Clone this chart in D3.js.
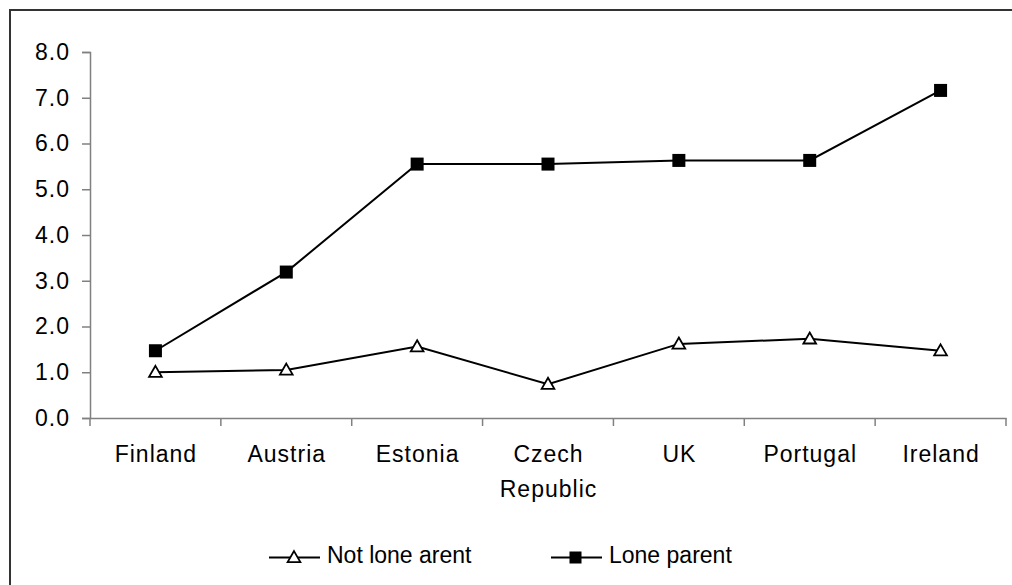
<!DOCTYPE html>
<html>
<head>
<meta charset="utf-8">
<script src="https://cdn.jsdelivr.net/npm/d3@7"></script>
<style>
html,body{margin:0;padding:0;background:#fff;overflow:hidden;}
svg{display:block;font-family:"Liberation Sans",Arial,sans-serif;}
</style>
</head>
<body>
<svg id="chart" width="1012" height="585"></svg>
<script>
const categories = ["Finland", "Austria", "Estonia", "Czech\nRepublic", "UK", "Portugal", "Ireland"];
const notLoneParent = [1.0, 1.05, 1.56, 0.74, 1.62, 1.73, 1.47];
const loneParent = [1.47, 3.19, 5.55, 5.55, 5.63, 5.63, 7.16];
const yTicks = [0, 1, 2, 3, 4, 5, 6, 7, 8];
const seriesNames = ["Not lone arent", "Lone parent"];

const svg = d3.select("#chart");
const FONT = "Liberation Sans, Arial, sans-serif";

// outer frame (right/bottom edges off-canvas)
svg.append("rect").attr("x", 10).attr("y", 10).attr("width", 1020).attr("height", 600)
  .attr("fill", "none").attr("stroke", "#333").attr("stroke-width", 2);

const x = d3.scaleBand().domain(d3.range(categories.length)).range([90, 1006]);
const y = d3.scaleLinear().domain([0, 8]).range([418, 52]);

const axisColor = "#808080";
// y axis
const yAxis = svg.append("g").attr("transform", "translate(90,0)")
  .call(d3.axisLeft(y).tickValues(yTicks).tickFormat(d3.format(".1f")).tickSizeOuter(0).tickSize(8).tickPadding(12));
yAxis.select(".domain").attr("stroke", axisColor).attr("stroke-width", 1.5);
yAxis.selectAll(".tick line").attr("stroke", axisColor).attr("stroke-width", 1.5);
yAxis.selectAll(".tick text").attr("fill", "#000").attr("font-size", 23)
  .attr("letter-spacing", 1).attr("font-family", FONT);

// x axis
const xAxis = svg.append("g").attr("transform", "translate(0,418)")
  .call(d3.axisBottom(x).tickSize(0).tickFormat(""));
xAxis.select(".domain").attr("stroke", axisColor).attr("stroke-width", 1.5);
xAxis.selectAll(".tick").remove();
const tickPos = d3.range(categories.length + 1).map(i => i < categories.length ? x(i) : x(categories.length - 1) + x.bandwidth());
xAxis.selectAll("line.xt").data(tickPos).enter().append("line")
  .attr("x1", d => d).attr("x2", d => d).attr("y1", 0).attr("y2", 8)
  .attr("stroke", axisColor).attr("stroke-width", 1.5);

const labels = svg.append("g");
categories.forEach((c, i) => {
  const t = labels.append("text").attr("text-anchor", "middle")
    .attr("font-size", 23).attr("letter-spacing", 1).attr("fill", "#000");
  c.split("\n").forEach((line, j) => {
    t.append("tspan").attr("x", x(i) + x.bandwidth() / 2 + 0.5).attr("y", 462 + j * 35).text(line);
  });
});

const cx = i => x(i) + x.bandwidth() / 2;
const line = d3.line().x((d, i) => cx(i)).y(d => y(d));

svg.append("path").datum(loneParent).attr("d", line)
  .attr("fill", "none").attr("stroke", "#000").attr("stroke-width", 2);
svg.append("path").datum(notLoneParent).attr("d", line)
  .attr("fill", "none").attr("stroke", "#000").attr("stroke-width", 2);

const tri = d3.symbol().type(d3.symbolTriangle).size(70);
svg.selectAll("path.tri").data(notLoneParent).enter().append("path")
  .attr("transform", (d, i) => `translate(${cx(i)},${y(d) + 1})`)
  .attr("d", tri).attr("fill", "#fff").attr("stroke", "#000").attr("stroke-width", 1.8);

svg.selectAll("rect.sq").data(loneParent).enter().append("rect")
  .attr("x", (d, i) => cx(i) - 6.5).attr("y", d => y(d) - 6.5)
  .attr("width", 13).attr("height", 13).attr("fill", "#000");

// legend
const lg = svg.append("g");
const legendY = 557.5;
// item 1
lg.append("line").attr("x1", 269).attr("x2", 320).attr("y1", legendY).attr("y2", legendY).attr("stroke", "#000").attr("stroke-width", 2);
lg.append("path").attr("d", tri).attr("transform", `translate(294,${legendY + 1})`).attr("fill", "#fff").attr("stroke", "#000").attr("stroke-width", 1.8);
lg.append("text").attr("x", 327).attr("y", legendY + 5).attr("font-size", 23).text(seriesNames[0]);
// item 2
lg.append("line").attr("x1", 551).attr("x2", 602).attr("y1", legendY).attr("y2", legendY).attr("stroke", "#000").attr("stroke-width", 2);
lg.append("rect").attr("x", 569.5).attr("y", legendY - 6).attr("width", 12).attr("height", 12).attr("fill", "#000");
lg.append("text").attr("x", 609).attr("y", legendY + 5).attr("font-size", 23).text(seriesNames[1]);
</script>
</body>
</html>
